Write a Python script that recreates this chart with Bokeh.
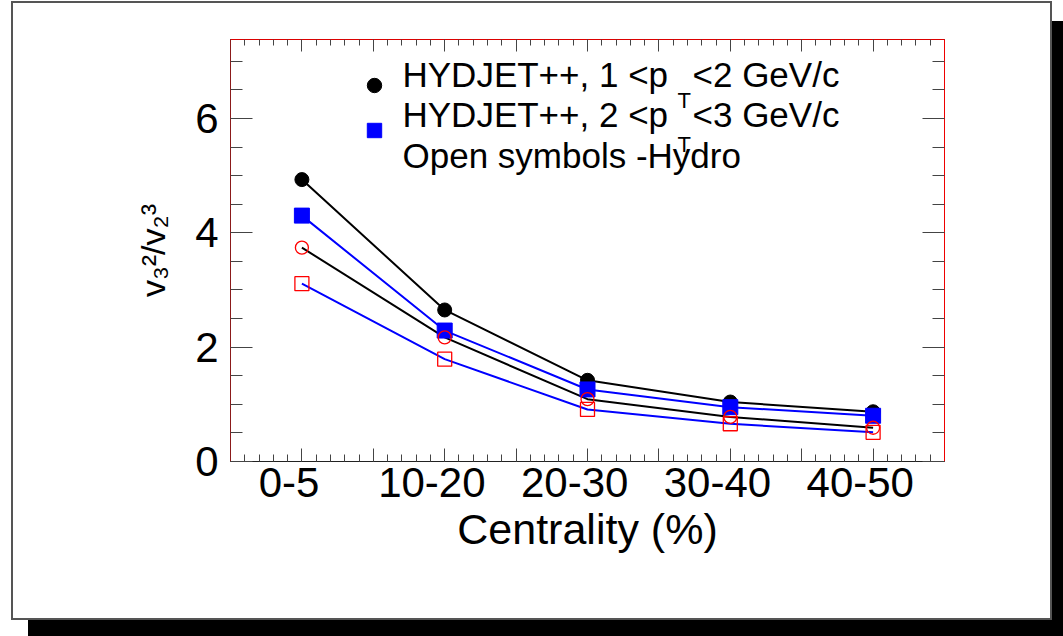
import numpy as np
from bokeh.plotting import figure
from bokeh.models import (LinearAxis, Range1d, FixedTicker, Label, Legend, LegendItem,
                          CustomJSTickFormatter)
from bokeh.embed import file_html
from bokeh.resources import INLINE

# ---------------- data ----------------
categories = ["0-5", "10-20", "20-30", "30-40", "40-50"]
hydjet_pt12 = [4.93, 2.65, 1.42, 1.04, 0.87]   # HYDJET++, 1<pT<2 (black filled circles)
hydjet_pt23 = [4.30, 2.29, 1.26, 0.95, 0.80]   # HYDJET++, 2<pT<3 (blue filled squares)
hydro_pt12 = [3.74, 2.17, 1.09, 0.78, 0.59]    # Hydro, 1<pT<2 (open red circles, black line)
hydro_pt23 = [3.11, 1.79, 0.91, 0.66, 0.51]    # Hydro, 2<pT<3 (open red squares, blue line)
y_tick_values = [0, 2, 4, 6]
x_index = list(range(len(categories)))
y_title = "v\u2083\u00b2/v\u2082\u00b3"

FONT = "Liberation Sans"
X0, X1 = -0.5, 4.5
Y0, Y1 = 0.0, 7.38

# page geometry (px) used for placing annotations
BOX_L, BOX_T, BOX_R, BOX_B = 13, 3, 1050, 618
FL, FR, FT, FB = 230, 944, 39, 461
BASE_K = 0.36                    # empirical baseline correction (fraction of font size)


def px_x(px):
    return X0 + (px - FL) * (X1 - X0) / (FR - FL)


def px_y(py):
    return Y0 + (FB - py) * (Y1 - Y0) / (FB - FT)


def base_y(py, fs):
    return px_y(py - BASE_K * fs)


# ---------------- main figure ----------------
p = figure(width=BOX_R - BOX_L, height=BOX_B - BOX_T,
           x_range=Range1d(X0, X1), y_range=Range1d(Y0, Y1),
           output_backend="svg", toolbar_location=None,
           x_axis_location=None, y_axis_location=None,
           min_border_left=FL - BOX_L, min_border_right=BOX_R - FR,
           min_border_top=FT - BOX_T, min_border_bottom=BOX_B - FB,
           background_fill_color="white", border_fill_color="white",
           outline_line_color="#dd0000", outline_line_width=1)
p.grid.visible = False
p.styles = {"margin-left": f"{BOX_L}px", "margin-top": f"{BOX_T}px",
            "outline": "2px solid #555",
            "box-shadow": "15px 18px 0px 0px #000"}

p.extra_x_ranges = {"lab": Range1d(X0 + 0.09, X1 + 0.09)}

blank = CustomJSTickFormatter(code="return ''")
x_major = list(np.round(np.arange(X0, X1 + 0.01, 0.5), 2))
x_minor = list(np.round(np.arange(X0, X1 + 0.01, 0.1), 2))
y_minor = list(np.round(np.arange(0, 7.01, 0.5), 2))

tick_col = "#444444"

ax_bt = LinearAxis(ticker=FixedTicker(ticks=x_major, minor_ticks=x_minor), formatter=blank,
                   major_tick_in=13, major_tick_out=0, minor_tick_in=7, minor_tick_out=0,
                   major_label_text_font_size="0px", major_label_standoff=0,
                   axis_line_color="#222222", major_tick_line_color=tick_col,
                   minor_tick_line_color=tick_col)
p.add_layout(ax_bt, "below")

ax_bl = LinearAxis(x_range_name="lab",
                   ticker=FixedTicker(ticks=x_index, minor_ticks=[]),
                   major_label_overrides={i: c for i, c in zip(x_index, categories)},
                   major_tick_in=0, major_tick_out=0, minor_tick_in=0, minor_tick_out=0,
                   axis_line_color=None,
                   major_label_text_font=FONT, major_label_text_font_size="42px",
                   major_label_text_color="black", major_label_standoff=6,
                   axis_label="Centrality (%)", axis_label_text_font=FONT,
                   axis_label_text_font_size="43px", axis_label_text_font_style="normal",
                   axis_label_text_color="black", axis_label_standoff=5)
p.add_layout(ax_bl, "below")

ax_top = LinearAxis(ticker=FixedTicker(ticks=x_major, minor_ticks=x_minor), formatter=blank,
                    major_tick_in=12, major_tick_out=0, minor_tick_in=6, minor_tick_out=0,
                    major_label_text_font_size="0px", major_label_standoff=0,
                    axis_line_color="#dd0000", major_tick_line_color=tick_col,
                    minor_tick_line_color=tick_col)
p.add_layout(ax_top, "above")

ax_y = LinearAxis(ticker=FixedTicker(ticks=y_tick_values, minor_ticks=y_minor),
                  major_tick_in=22, major_tick_out=0, minor_tick_in=12, minor_tick_out=0,
                  major_label_text_font=FONT, major_label_text_font_size="42px",
                  major_label_text_color="black", major_label_standoff=12,
                  axis_line_color="#8b1a1a", major_tick_line_color=tick_col,
                  minor_tick_line_color=tick_col,
                  axis_label=y_title, axis_label_text_font=FONT,
                  axis_label_text_font_size="34px", axis_label_text_font_style="normal",
                  axis_label_text_color="black", axis_label_standoff=20)
p.add_layout(ax_y, "left")

ax_r = LinearAxis(ticker=FixedTicker(ticks=y_tick_values, minor_ticks=y_minor), formatter=blank,
                  major_tick_in=22, major_tick_out=0, minor_tick_in=12, minor_tick_out=0,
                  major_label_text_font_size="0px", major_label_standoff=0,
                  axis_line_color="#ee0000", major_tick_line_color=tick_col,
                  minor_tick_line_color=tick_col)
p.add_layout(ax_r, "right")

# ---------------- series ----------------
p.line(x_index, hydjet_pt12, line_color="black", line_width=2)
p.line(x_index, hydjet_pt23, line_color="#0000ff", line_width=2)
p.line(x_index, hydro_pt12, line_color="black", line_width=2)
p.line(x_index, hydro_pt23, line_color="#0000ff", line_width=2)

r1 = p.scatter(x_index, hydjet_pt12, marker="circle", size=14,
               fill_color="black", line_color="black")
r2 = p.scatter(x_index, hydjet_pt23, marker="square", size=15,
               fill_color="#0000ff", line_color="#0000ff")
p.scatter(x_index, hydro_pt12, marker="circle", size=13,
          fill_color=None, line_color="#ff0000", line_width=1.3)
p.scatter(x_index, hydro_pt23, marker="square", size=14,
          fill_color=None, line_color="#ff0000", line_width=1.3)

# ---------------- legend (keys) + texts ----------------
leg = Legend(items=[LegendItem(label="", renderers=[r1]),
                    LegendItem(label="", renderers=[r2])],
             location=(126, 313), glyph_width=36, glyph_height=36, spacing=9,
             label_height=36, label_width=0, label_standoff=0,
             label_text_font_size="10px",
             padding=0, margin=0, border_line_color=None, background_fill_alpha=0)
p.add_layout(leg, "center")

leg_text = dict(text_font=FONT, text_color="black", text_baseline="alphabetic")
legend_rows = [
    # (text, left px, baseline px, font size)
    ("HYDJET++, 1 <p", 402, 87, 35),
    ("T", 677, 108, 22),
    ("<2 GeV/c", 692, 87, 35),
    ("HYDJET++, 2 <p", 402, 127, 35),
    ("T", 677, 152, 22),
    ("<3 GeV/c", 692, 127, 35),
    ("Open symbols -Hydro", 402, 168, 35),
]
for txt, lx, by, fs in legend_rows:
    p.add_layout(Label(x=px_x(lx), y=base_y(by, fs), text=txt,
                       text_font_size=f"{fs}px", **leg_text))

open("out.html", "w").write(file_html(p, INLINE))
